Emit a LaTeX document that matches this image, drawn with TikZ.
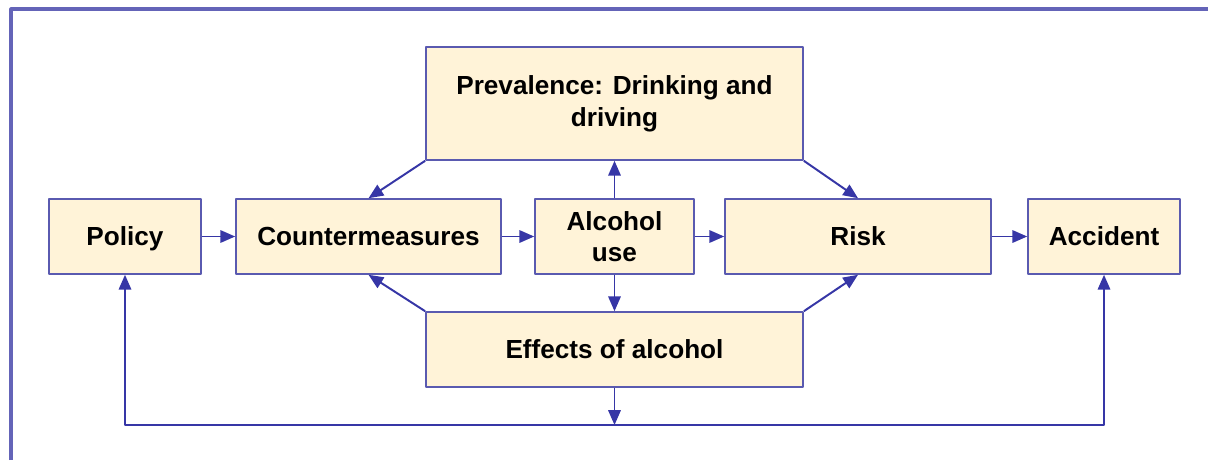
\documentclass[tikz,border=0pt]{standalone}
\usepackage{fontspec}
\setmainfont{Liberation Sans}
\usetikzlibrary{arrows.meta}
\definecolor{boxfill}{HTML}{FFF3D8}
\definecolor{boxline}{HTML}{5A5AB0}
\definecolor{arrowc}{HTML}{3636A6}
\definecolor{framec}{HTML}{6464B8}
\tikzset{
  factor/.style={draw=boxline,fill=boxfill,line width=1.1pt,minimum height=1.875cm,
    align=center,font=\fontsize{18.6}{22.5}\selectfont\bfseries,inner sep=0pt},
  link/.style={->,draw=arrowc,line width=1.4pt}
}
\begin{document}
\begin{tikzpicture}[x=0.025cm,y=-0.025cm,line join=round,>={Triangle[length=0.37cm,width=0.31cm]}]
		\useasboundingbox (0,0) rectangle (1208,460);
		\draw[framec,line width=2.2pt] (11,460)--(11,9)--(1208,9);
		% middle row
		\node[factor,minimum width=3.8cm,text depth=0pt] (policy) at (125,236.5) {Policy};
		\node[factor,minimum width=6.625cm] (counter) at (368.5,236.5) {Countermeasures};
		\node[factor,minimum width=3.975cm] (alcohol) at (614.5,236.5) {Alcohol\\use};
		\node[factor,minimum width=6.65cm] (risk) at (858,236.5) {Risk};
		\node[factor,minimum width=3.8cm] (accident) at (1104,236.5) {Accident};
		% top and bottom
		\node[factor,minimum width=9.425cm,minimum height=2.825cm] (prevalence) at (614.5,103.5) {Prevalence: Drinking and\\driving};
		\node[factor,minimum width=9.425cm] (effects) at (614.5,349.5) {Effects of alcohol};
		\coordinate (base) at (614.5,425);
		% connectors
		\draw[link] (policy)--(counter);
		\draw[link] (counter)--(alcohol);
		\draw[link] (alcohol)--(risk);
		\draw[link] (risk)--(accident);
		\draw[link] (alcohol)--(prevalence);
		\draw[link] (alcohol)--(effects);
		\draw[link] (prevalence.south west)--(counter.north);
		\draw[link] (prevalence.south east)--(risk.north);
		\draw[link] (effects.north west)--(counter.south);
		\draw[link] (effects.north east)--(risk.south);
		\draw[link] (effects)--(base);
		\draw[link] (base)-|(policy);
		\draw[link] (base)-|(accident);
		\end{tikzpicture}
\end{document}
